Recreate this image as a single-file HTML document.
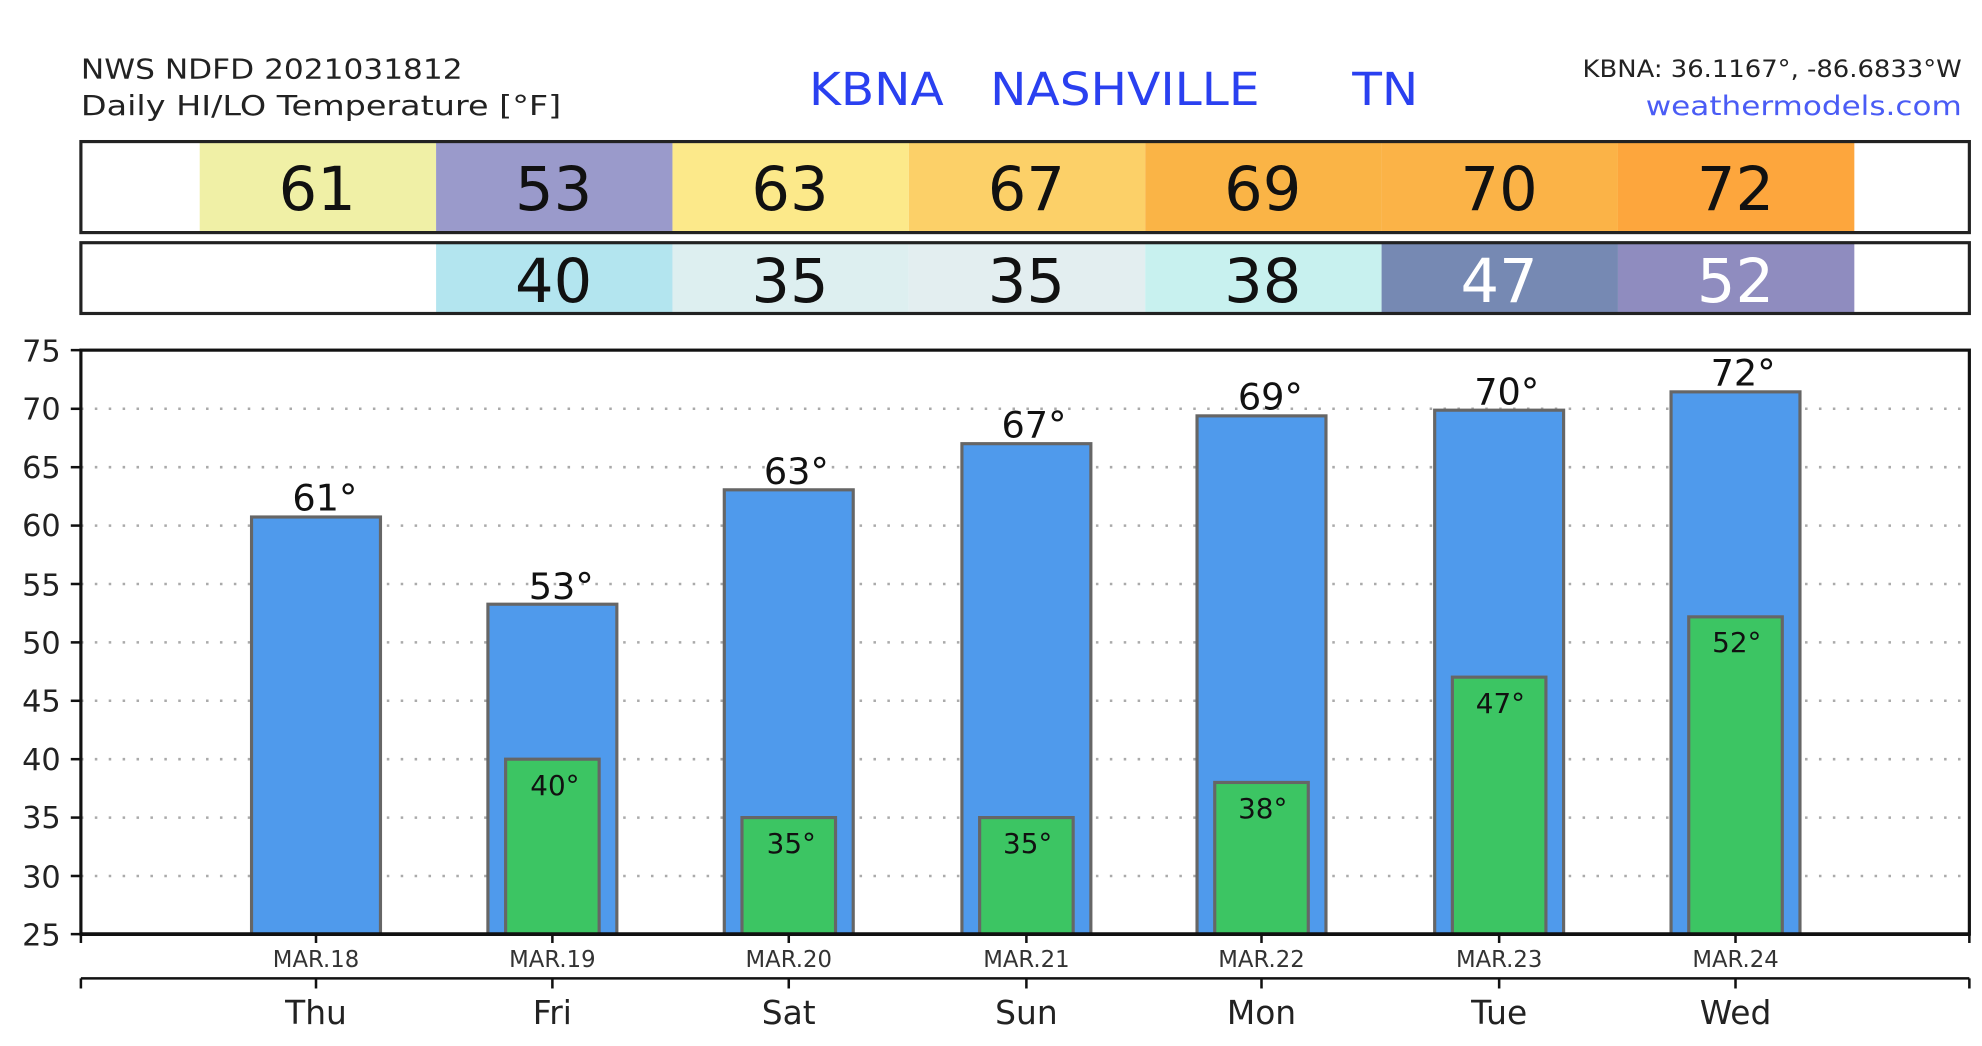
<!DOCTYPE html>
<html><head><meta charset="utf-8"><style>html,body{margin:0;padding:0;background:#fff}svg{display:block}</style></head>
<body>
<svg width="1982" height="1046" viewBox="0 0 1568 827.5" preserveAspectRatio="none" xmlns="http://www.w3.org/2000/svg" font-family="'DejaVu Sans','Liberation Sans',sans-serif">
<rect width="1568" height="828" fill="#fff"/>
<text x="64" y="62" font-size="22" fill="#222" textLength="302" lengthAdjust="spacingAndGlyphs">NWS NDFD 2021031812</text>
<text x="64" y="91" font-size="22" fill="#222" textLength="380" lengthAdjust="spacingAndGlyphs">Daily HI/LO Temperature [°F]</text>
<text x="640" y="83" font-size="36" fill="#2a40f0" xml:space="preserve" textLength="482" lengthAdjust="spacingAndGlyphs">KBNA   NASHVILLE      TN</text>
<text x="1552" y="61" font-size="19" fill="#222" text-anchor="end" textLength="300" lengthAdjust="spacingAndGlyphs">KBNA: 36.1167°, -86.6833°W</text>
<text x="1552" y="91" font-size="21" fill="#4a5cf5" text-anchor="end" textLength="250" lengthAdjust="spacingAndGlyphs">weathermodels.com</text>
<g>
<rect x="158" y="112" width="187" height="72" fill="#f0f0a6"/>
<rect x="345" y="112" width="187" height="72" fill="#9a9acb"/>
<rect x="532" y="112" width="187" height="72" fill="#fce98a"/>
<rect x="719" y="112" width="187" height="72" fill="#fcd068"/>
<rect x="906" y="112" width="187" height="72" fill="#fab446"/>
<rect x="1093" y="112" width="187" height="72" fill="#fbb347"/>
<rect x="1280" y="112" width="187" height="72" fill="#fda63d"/>
<rect x="64" y="112" width="1494" height="72" fill="none" stroke="#222" stroke-width="2.5"/>
<g font-size="48" fill="#111" text-anchor="middle">
<text x="251" y="166">61</text><text x="438" y="166">53</text><text x="625" y="166">63</text><text x="812" y="166">67</text><text x="999" y="166">69</text><text x="1186" y="166">70</text><text x="1373" y="166">72</text>
</g>
<rect x="345" y="192" width="187" height="56" fill="#b3e5ef"/>
<rect x="532" y="192" width="187" height="56" fill="#ddeff0"/>
<rect x="719" y="192" width="187" height="56" fill="#e3eef0"/>
<rect x="906" y="192" width="187" height="56" fill="#c8f1ef"/>
<rect x="1093" y="192" width="187" height="56" fill="#7689b3"/>
<rect x="1280" y="192" width="187" height="56" fill="#8f8cbf"/>
<rect x="64" y="192" width="1494" height="56" fill="none" stroke="#222" stroke-width="2.5"/>
<g font-size="48" text-anchor="middle">
<text x="438" y="239" fill="#111">40</text><text x="625" y="239" fill="#111">35</text><text x="812" y="239" fill="#111">35</text><text x="999" y="239" fill="#111">38</text><text x="1186" y="239" fill="#fff">47</text><text x="1373" y="239" fill="#fff">52</text>
</g>
</g>
<g stroke="#aaa" stroke-width="2" stroke-dasharray="2,9">
<line x1="64" x2="1558" y1="323.4" y2="323.4"/><line x1="64" x2="1558" y1="369.6" y2="369.6"/><line x1="64" x2="1558" y1="415.8" y2="415.8"/><line x1="64" x2="1558" y1="462" y2="462"/><line x1="64" x2="1558" y1="508.2" y2="508.2"/><line x1="64" x2="1558" y1="554.4" y2="554.4"/><line x1="64" x2="1558" y1="600.6" y2="600.6"/><line x1="64" x2="1558" y1="646.8" y2="646.8"/><line x1="64" x2="1558" y1="693" y2="693"/>
</g>
<g font-size="24" fill="#222" text-anchor="end">
<text x="48" y="286">75</text><text x="48" y="332">70</text><text x="48" y="378">65</text><text x="48" y="424">60</text><text x="48" y="471">55</text><text x="48" y="517">50</text><text x="48" y="563">45</text><text x="48" y="609">40</text><text x="48" y="655">35</text><text x="48" y="702">30</text><text x="48" y="748">25</text>
</g>
<g stroke="#111" stroke-width="2">
<line x1="56" x2="64" y1="277" y2="277"/><line x1="56" x2="64" y1="323.4" y2="323.4"/><line x1="56" x2="64" y1="369.6" y2="369.6"/><line x1="56" x2="64" y1="415.8" y2="415.8"/><line x1="56" x2="64" y1="462" y2="462"/><line x1="56" x2="64" y1="508.2" y2="508.2"/><line x1="56" x2="64" y1="554.4" y2="554.4"/><line x1="56" x2="64" y1="600.6" y2="600.6"/><line x1="56" x2="64" y1="646.8" y2="646.8"/><line x1="56" x2="64" y1="693" y2="693"/><line x1="56" x2="64" y1="739" y2="739"/>
</g>
<g fill="#4f9aec" stroke="#666" stroke-width="2.5">
<rect x="199" y="409" width="102" height="330"/>
<rect x="386" y="478" width="102" height="261"/>
<rect x="573" y="387.5" width="102" height="351.5"/>
<rect x="761" y="351" width="102" height="388"/>
<rect x="947" y="329" width="102" height="410"/>
<rect x="1135" y="324.5" width="102" height="414.5"/>
<rect x="1322" y="310" width="102" height="429"/>
</g>
<g fill="#3cc563" stroke="#666" stroke-width="2.5">
<rect x="400" y="600.6" width="74" height="138.4"/>
<rect x="587" y="646.8" width="74" height="92.2"/>
<rect x="775" y="646.8" width="74" height="92.2"/>
<rect x="961" y="619" width="74" height="120"/>
<rect x="1149" y="535.7" width="74" height="203.3"/>
<rect x="1336" y="488" width="74" height="251"/>
</g>
<g font-size="29" fill="#111" text-anchor="middle">
<text x="257" y="404">61°</text><text x="444" y="474">53°</text><text x="630" y="383">63°</text><text x="818" y="346">67°</text><text x="1005" y="324">69°</text><text x="1192" y="320">70°</text><text x="1379" y="305">72°</text>
</g>
<g font-size="22" fill="#111" text-anchor="middle">
<text x="439" y="629">40°</text><text x="626" y="675">35°</text><text x="813" y="675">35°</text><text x="999" y="647">38°</text><text x="1187" y="564">47°</text><text x="1374" y="516">52°</text>
</g>
<rect x="64" y="277" width="1494" height="462" fill="none" stroke="#111" stroke-width="2.5"/>
<line x1="64" x2="1558" y1="739" y2="739" stroke="#111" stroke-width="3"/>
<g stroke="#111" stroke-width="2">
<line x1="64" x2="64" y1="739" y2="746"/><line x1="250" x2="250" y1="739" y2="746"/><line x1="437" x2="437" y1="739" y2="746"/><line x1="624" x2="624" y1="739" y2="746"/><line x1="812" x2="812" y1="739" y2="746"/><line x1="998" x2="998" y1="739" y2="746"/><line x1="1186" x2="1186" y1="739" y2="746"/><line x1="1373" x2="1373" y1="739" y2="746"/><line x1="1558" x2="1558" y1="739" y2="746"/>
<line x1="64" x2="1558" y1="774" y2="774"/>
<line x1="64" x2="64" y1="774" y2="782"/><line x1="250" x2="250" y1="774" y2="782"/><line x1="437" x2="437" y1="774" y2="782"/><line x1="624" x2="624" y1="774" y2="782"/><line x1="812" x2="812" y1="774" y2="782"/><line x1="998" x2="998" y1="774" y2="782"/><line x1="1186" x2="1186" y1="774" y2="782"/><line x1="1373" x2="1373" y1="774" y2="782"/><line x1="1558" x2="1558" y1="774" y2="782"/>
</g>
<g font-size="18" fill="#333" text-anchor="middle">
<text x="250" y="765">MAR.18</text><text x="437" y="765">MAR.19</text><text x="624" y="765">MAR.20</text><text x="812" y="765">MAR.21</text><text x="998" y="765">MAR.22</text><text x="1186" y="765">MAR.23</text><text x="1373" y="765">MAR.24</text>
</g>
<g font-size="26" fill="#222" text-anchor="middle">
<text x="250" y="810">Thu</text><text x="437" y="810">Fri</text><text x="624" y="810">Sat</text><text x="812" y="810">Sun</text><text x="998" y="810">Mon</text><text x="1186" y="810">Tue</text><text x="1373" y="810">Wed</text>
</g>
</svg>
</body></html>
